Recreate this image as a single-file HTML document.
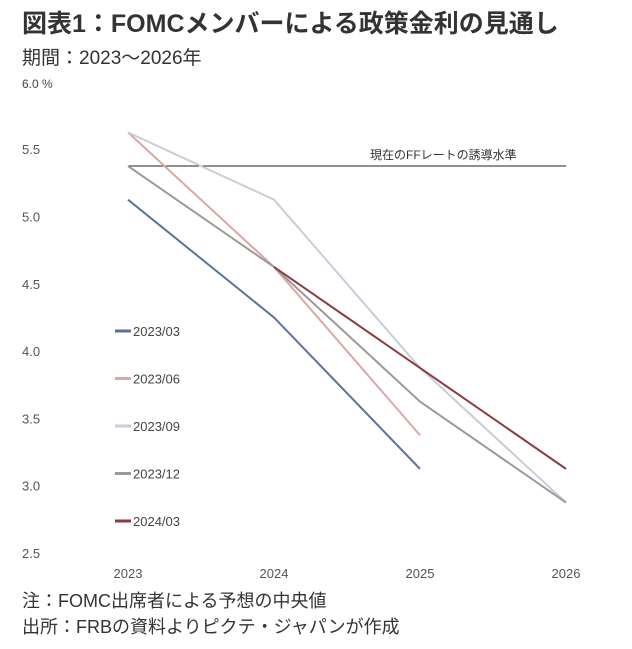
<!DOCTYPE html>
<html><head><meta charset="utf-8"><style>
body{margin:0;width:632px;height:644px;background:#fff;overflow:hidden;font-family:"Liberation Sans","Noto Sans CJK JP",sans-serif;color:#333}
svg text{font-family:"Liberation Sans","Noto Sans CJK JP",sans-serif}
</style></head><body>
<svg width="632" height="644">
<text x="22" y="32" font-size="25" font-weight="bold" fill="#333">図表1：FOMCメンバーによる政策金利の見通し</text>
<text x="22" y="64" font-size="19" fill="#333">期間：2023～2026年</text>
<text x="22" y="88" font-size="12" fill="#444">6.0 %</text>
<g id="yt"></g><g id="xt"></g>
<line x1="128" x2="566" y1="166" y2="166" stroke="#222" stroke-width="1" id="refline"/>
<text x="370" y="159" font-size="12" fill="#333">現在のFFレートの誘導水準</text>
<g id="series"></g><g id="legend"></g>
<text x="22" y="607" font-size="18" fill="#333">注：FOMC出席者による予想の中央値</text>
<text x="22" y="633" font-size="18" fill="#333">出所：FRBの資料よりピクテ・ジャパンが作成</text>
</svg>
<script>
const years=["2023","2024","2025","2026"];
const yTicks=[2.5,3.0,3.5,4.0,4.5,5.0,5.5];
const seriesNames=["2023/03","2023/06","2023/09","2023/12","2024/03"];
const s0=[5.125,4.25,3.125,null];
const s1=[5.625,4.625,3.375,null];
const s2=[5.625,5.125,3.875,2.875];
const s3=[5.375,4.625,3.625,2.875];
const s4=[null,4.625,3.875,3.125];
const refRate=5.375;
const colors=["#5a7399","#dba7a7","#c5ced8","#9a9a9a","#8e3a3f"];
const NS="http://www.w3.org/2000/svg";
const X=i=>128+i*146;
const Y=v=>553-(v-2.5)*134.6;
function mk(t,a,p){const e=document.createElementNS(NS,t);for(const k in a)e.setAttribute(k,a[k]);p.appendChild(e);return e;}
const yt=document.getElementById('yt');
yTicks.forEach(v=>{const t=mk('text',{x:22,y:Y(v)+5,'font-size':13,fill:'#555'},yt);t.textContent=v.toFixed(1);

});
const xt=document.getElementById('xt');
years.forEach((y,i)=>{const t=mk('text',{x:X(i),y:578,'font-size':13,fill:'#555','text-anchor':'middle'},xt);t.textContent=y;

});
const rl=document.getElementById('refline');rl.setAttribute('y1',Y(refRate));rl.setAttribute('y2',Y(refRate));
const sg=document.getElementById('series');
[s0,s1,s2,s3,s4].forEach((s,k)=>{const pts=[];s.forEach((v,i)=>{if(v!==null)pts.push(X(i)+','+Y(v));});
const p=mk('polyline',{points:pts.join(' '),fill:'none',stroke:colors[k],'stroke-width':2},sg);

});
const lg=document.getElementById('legend');
seriesNames.forEach((n,k)=>{const y=331+k*47.5;
const l=mk('line',{x1:115,x2:131,y1:y,y2:y,stroke:colors[k],'stroke-width':3},lg);


const t=mk('text',{x:133,y:y+5,'font-size':13,fill:'#444'},lg);t.textContent=n;

});
</script>
</body></html>
